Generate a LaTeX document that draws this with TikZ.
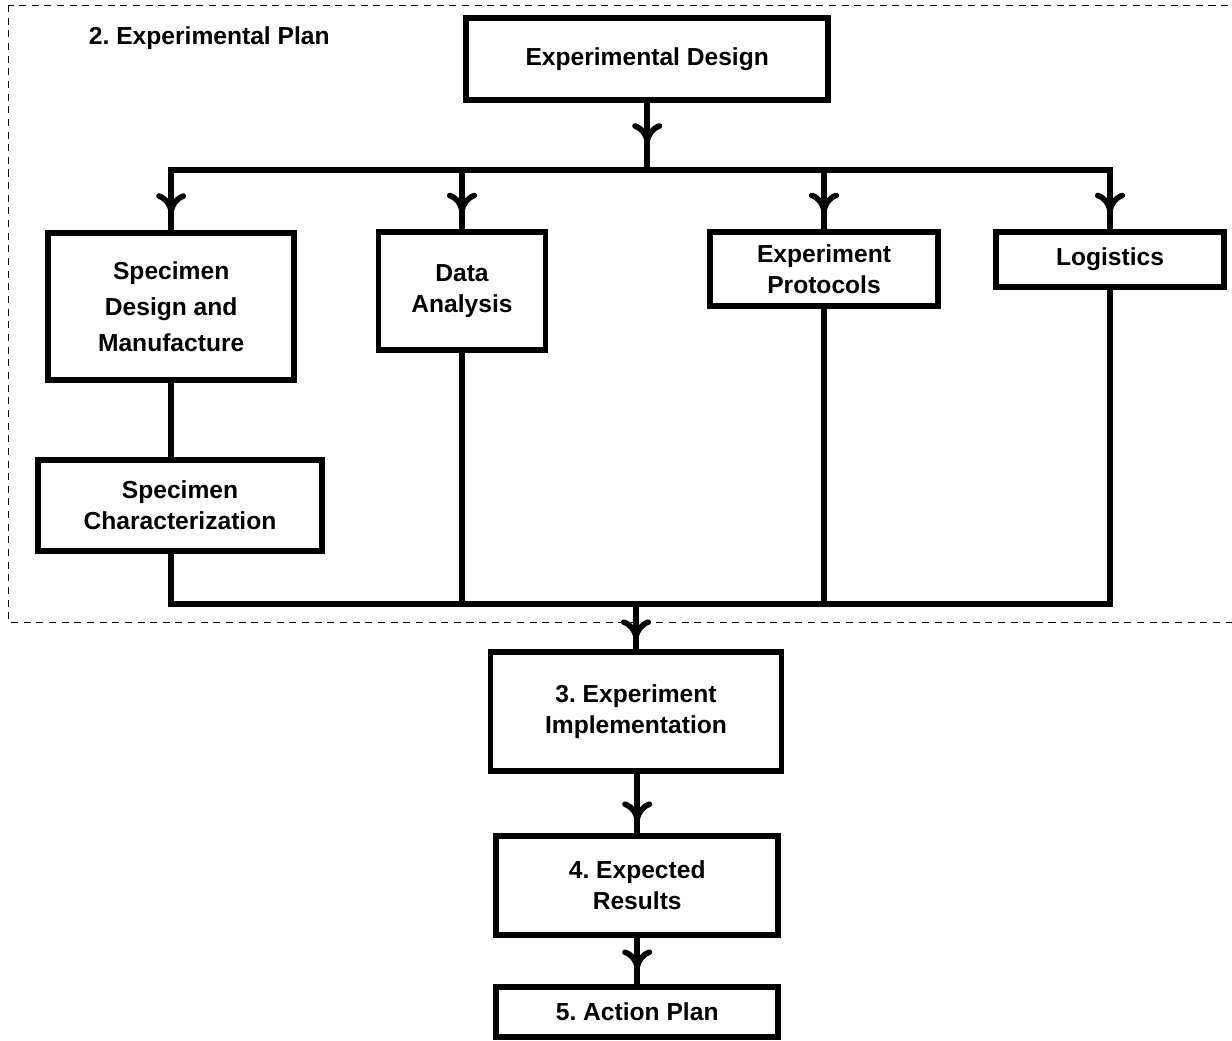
\documentclass[tikz,border=0pt]{standalone}
\usepackage{fontspec}
\setmainfont{Liberation Sans}
\frenchspacing
\usetikzlibrary{arrows.meta,decorations.markings}

\tikzset{
  box/.style={draw, line width=4pt, align=center, inner sep=0pt,
    font=\bfseries\fontsize{17.5}{22}\selectfont},
  conn/.style={line width=4pt},
  midarrow/.style={postaction={decorate}, decoration={markings,
    mark=at position #1 with {\arrow{Computer Modern Rightarrow[length=0.5cm,width=0.75cm]}}}},
  midarrow/.default=0.72
}

\begin{document}
\begin{tikzpicture}
            \useasboundingbox (0,0) rectangle (30.8,-26);
            \draw[line width=0.7pt, dash pattern=on 5pt off 4pt] (0.2,-0.125) rectangle (31.5,-15.55);
            \node[anchor=west, font=\bfseries\fontsize{17.5}{22}\selectfont] (plan) at (2.1,-0.95) {2. Experimental Plan};

            \node[box, minimum width=9.05cm, minimum height=2.05cm] (ed) at (16.18,-1.48) {Experimental Design};

            \node[box, minimum width=6.15cm, minimum height=3.675cm, font=\bfseries\fontsize{17.5}{25.5}\selectfont] (sd) at (4.28,-7.66) {Specimen\\Design and\\Manufacture};
            \node[box, minimum width=4.175cm, minimum height=2.95cm] (da) at (11.55,-7.28) {Data\\Analysis};
            \node[box, minimum width=5.7cm, minimum height=1.85cm] (ep) at (20.6,-6.725) {Experiment\\Protocols};
            \node[box, minimum width=5.7cm, minimum height=1.375cm] (lg) at (27.75,-6.49) {Logistics};
            \node[box, minimum width=7.1cm, minimum height=2.275cm] (sc) at (4.5,-12.64) {Specimen\\Characterization};

            \node[box, minimum width=7.275cm, minimum height=2.975cm] (im) at (15.9,-17.79) {3. Experiment\\Implementation};
            \node[box, minimum width=7.05cm, minimum height=2.475cm] (er) at (15.93,-22.14) {4. Expected\\Results};
            \node[box, minimum width=7.05cm, minimum height=1.25cm] (ap) at (15.93,-25.3) {5. Action Plan};

            \coordinate (bt) at (0,-4.25);
            \coordinate (bb) at (0,-15.1);

            % top bus
            \draw[conn, midarrow=0.6] (ed) -- (ed |- bt);
            \draw[conn, line cap=rect] (bt -| sd.north) -- (bt -| lg.north);
            \draw[conn, midarrow] (bt -| sd.north) -- (sd.north);
            \draw[conn, midarrow] (bt -| da.north) -- (da.north);
            \draw[conn, midarrow] (bt -| ep.north) -- (ep.north);
            \draw[conn, midarrow] (bt -| lg.north) -- (lg.north);

            \draw[conn] (sd.south) -- (sd.south |- sc.north);

            % bottom bus
            \draw[conn] (sd.south |- sc.south) -- (sd.south |- bb);
            \draw[conn] (da.south) -- (da.south |- bb);
            \draw[conn] (ep.south) -- (ep.south |- bb);
            \draw[conn] (lg.south) -- (lg.south |- bb);
            \draw[conn, line cap=rect] (sd.south |- bb) -- (lg.south |- bb);

            \draw[conn, midarrow=0.78] (bb -| im.north) -- (im.north);
            \draw[conn, midarrow=0.8] (im.south -| er.north) -- (er.north);
            \draw[conn, midarrow=0.68] (er) -- (ap);
        \end{tikzpicture}
\end{document}
